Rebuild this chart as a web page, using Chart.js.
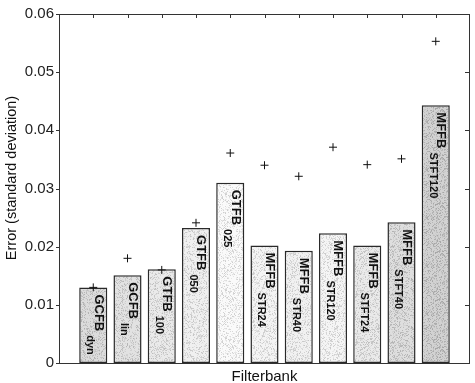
<!DOCTYPE html>
<html><head><meta charset="utf-8">
<script src="https://cdn.jsdelivr.net/npm/chart.js@4/dist/chart.umd.min.js"></script>
<style>html,body{margin:0;padding:0;background:#fff}#wrap{width:475px;height:383px}</style>
</head><body><div id="wrap"><canvas id="c" width="475" height="383"></canvas></div>
<script>
// ---- data ----
const filterbanks = ['GCFB','GCFB','GTFB','GTFB','GTFB','MFFB','MFFB','MFFB','MFFB','MFFB','MFFB'];
const variants = ['dyn','lin','100','050','025','STR24','STR40','STR120','STFT24','STFT40','STFT120'];
const barErrors = [0.0130,0.0151,0.0161,0.0232,0.0310,0.0202,0.0193,0.0223,0.0202,0.0242,0.0443];
const markerErrors = [0.0130,0.0180,0.0160,0.0241,0.0361,0.0340,0.0321,0.0371,0.0341,0.0351,0.0553];
const yTicks = [0,0.01,0.02,0.03,0.04,0.05,0.06];
const xTitle = 'Filterbank';
const yTitle = 'Error (standard deviation)';

// ---- styles ----
const barShades = [210,216,224,230,240,234,231,235,224,212,200];
const FONT = '"Liberation Sans", Arial, sans-serif';

function stipple(level, seed){
  const c = document.createElement('canvas'); c.width = c.height = 48;
  const g = c.getContext('2d');
  const b = Math.min(255, level + 10);
  g.fillStyle = `rgb(${b},${b},${b})`; g.fillRect(0,0,48,48);
  let s = seed * 7919 + 17;
  const rnd = () => { s = (Math.imul(s, 1103515245) + 12345) >>> 0; return (s >>> 8) / 16777216; };
  for (let k = 0; k < 1100; k++) {
    const x = Math.floor(rnd()*48), y = Math.floor(rnd()*48);
    const d = Math.floor(level - 35 + rnd()*40);
    g.fillStyle = `rgb(${d},${d},${d})`;
    g.fillRect(x, y, 1, 1);
  }
  return g.createPattern(c, 'repeat');
}
const patterns = barShades.map((l,i) => stipple(l, i + 3));

const decor = {
  id: 'decor',
  afterDatasetsDraw(chart){
    const ctx = chart.ctx, a = chart.chartArea;
    const xs = chart.scales.x, ys = chart.scales.y;
    // labels inside bars
    const meta = chart.getDatasetMeta(1);
    meta.data.forEach((bar, i) => {
      ctx.save();
      ctx.fillStyle = '#111';
      ctx.translate(bar.x + 5, bar.y + 7);
      ctx.rotate(Math.PI/2);
      ctx.textAlign = 'left'; ctx.textBaseline = 'middle';
      ctx.font = 'bold 13px ' + FONT;
      ctx.fillText(filterbanks[i], 0, 0);
      const w = ctx.measureText(filterbanks[i]).width;
      ctx.font = 'bold 11px ' + FONT;
      ctx.fillText(variants[i], w + 4, 8);
      ctx.restore();
    });
    // frame and ticks
    ctx.save();
    ctx.strokeStyle = '#333'; ctx.lineWidth = 1;
    ctx.strokeRect(Math.round(a.left)+0.5, Math.round(a.top)+0.5, Math.round(a.right-a.left)-1, Math.round(a.bottom-a.top));
    ctx.beginPath();
    filterbanks.forEach((_, i) => {
      const px = Math.round(xs.getPixelForValue(i+1)) + 0.5;
      ctx.moveTo(px, a.top); ctx.lineTo(px, a.top + 4);
    });
    yTicks.forEach(v => {
      const py = Math.round(ys.getPixelForValue(v)) + 0.5;
      ctx.moveTo(a.right - 1, py); ctx.lineTo(a.right - 5, py);
      ctx.moveTo(a.left, py); ctx.lineTo(a.left - 3, py);
    });
    ctx.stroke();
    // axis titles
    ctx.fillStyle = '#111';
    ctx.font = '15px ' + FONT;
    ctx.textAlign = 'center'; ctx.textBaseline = 'middle';
    ctx.fillText(xTitle, (a.left + a.right)/2, a.bottom + 14);
    ctx.translate(12, 178);
    ctx.rotate(-Math.PI/2);
    ctx.font = '14.5px ' + FONT;
    ctx.fillText(yTitle, 0, 0);
    ctx.restore();
  }
};

new Chart(document.getElementById('c'), {
  data: {
    datasets: [
      {
        type: 'scatter',
        data: markerErrors.map((v,i) => ({x: i+1, y: v})),
        pointStyle: 'cross', pointRadius: 4, pointHoverRadius: 4,
        borderColor: '#111', borderWidth: 1, order: 0
      },
      {
        type: 'bar',
        data: barErrors.map((v,i) => ({x: i+1, y: v})),
        backgroundColor: patterns, borderColor: '#2a2a2a', borderWidth: 1.5,
        borderSkipped: false,
        barPercentage: 0.82, categoryPercentage: 1, order: 1
      }
    ]
  },
  options: {
    responsive: false, animation: false, devicePixelRatio: 1,
    layout: { padding: { top: 13, right: 4, bottom: 20, left: 0 } },
    plugins: { legend: { display: false }, tooltip: { enabled: false } },
    scales: {
      x: { type: 'linear', min: 0, max: 12, display: false, offset: false },
      y: {
        type: 'linear', min: 0, max: 0.06,
        afterBuildTicks: s => { s.ticks = yTicks.map(v => ({value: v})); },
        afterFit: s => { s.width = 59; },
        grid: { display: false, drawTicks: false },
        border: { display: false },
        ticks: {
          padding: 5, color: '#222', font: { family: FONT, size: 15 },
          callback: v => String(Number(v.toFixed(2)))
        }
      }
    }
  },
  plugins: [decor]
});
</script></body></html>
